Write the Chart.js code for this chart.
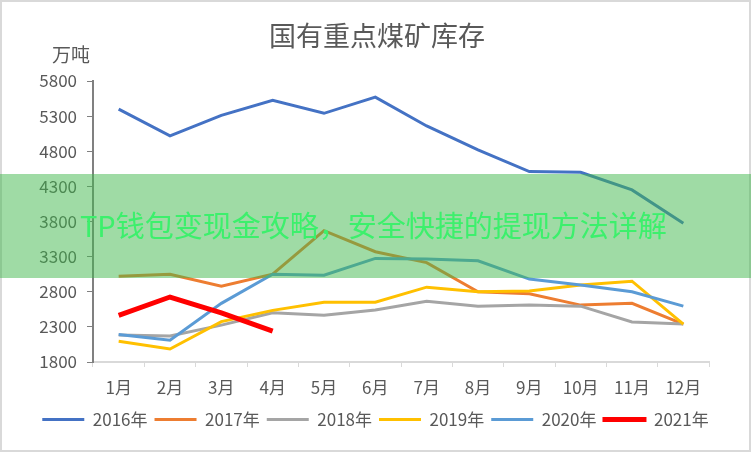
<!DOCTYPE html>
<html>
<head>
<meta charset="utf-8">
<script src="https://cdn.jsdelivr.net/npm/chart.js@4"></script>
<style>
  html, body { margin: 0; padding: 0; background: #fff; }
  #wrap { position: relative; width: 751px; height: 452px; overflow: hidden; }
  #frame { position: absolute; inset: 0; border: 2px solid #d9d9d9; pointer-events: none; }
  #band { position: absolute; left: 0; top: 174px; width: 751px; height: 104px; background: rgba(64, 184, 76, 0.5); }
  #band span { position: absolute; left: 80px; top: 36px; font: 29px/29px "Noto Sans CJK SC"; color: #3cf06c; white-space: nowrap; }
</style>
</head>
<body>
<div id="wrap">
  <canvas id="chart" width="751" height="452"></canvas>
  <div id="frame"></div>
  <div id="band"><span>TP钱包变现金攻略，安全快捷的提现方法详解</span></div>
</div>
<script>
const months = ["1月", "2月", "3月", "4月", "5月", "6月", "7月", "8月", "9月", "10月", "11月", "12月"];
const years = ["2016年", "2017年", "2018年", "2019年", "2020年", "2021年"];
const s2016 = [5400, 5020, 5310, 5525, 5340, 5570, 5160, 4820, 4510, 4500, 4250, 3775];
const s2017 = [3020, 3050, 2880, 3050, 3670, 3370, 3215, 2800, 2770, 2610, 2635, 2340];
const s2018 = [2185, 2170, 2325, 2500, 2465, 2540, 2665, 2595, 2610, 2595, 2370, 2340];
const s2019 = [2095, 1985, 2375, 2535, 2650, 2650, 2865, 2800, 2810, 2895, 2950, 2340];
const s2020 = [2190, 2110, 2635, 3050, 3035, 3275, 3265, 3240, 2980, 2895, 2800, 2595];
const s2021 = [2465, 2725, 2500, 2240];
const yTicks = [1800, 2300, 2800, 3300, 3800, 4300, 4800, 5300, 5800];

const colors = ["#4472c4", "#ed7d31", "#a5a5a5", "#ffc000", "#5b9bd5", "#ff0000"];
const series = [s2016, s2017, s2018, s2019, s2020, s2021];
const FONT = "'Noto Sans CJK SC', 'Noto Sans', sans-serif";
const TEXT = "#595959";

// title and unit label
const extraText = {
  id: "extraText",
  afterDraw(chart) {
    const ctx = chart.ctx;
    ctx.save();
    ctx.fillStyle = TEXT;
    ctx.textAlign = "center";
    ctx.textBaseline = "middle";
    ctx.font = "27px " + FONT;
    ctx.fillText("国有重点煤矿库存", 377, 36);
    ctx.font = "19px " + FONT;
    ctx.fillText("万吨", 71, 55);
    ctx.restore();
  }
};

new Chart(document.getElementById("chart"), {
  type: "line",
  data: {
    labels: months,
    datasets: series.map((data, i) => ({
      label: years[i],
      data: data,
      borderColor: colors[i],
      backgroundColor: colors[i],
      borderWidth: i === 5 ? 5 : 3,
      pointRadius: 0,
      tension: 0,
      order: 5 - i
    }))
  },
  options: {
    responsive: false,
    animation: false,
    layout: { padding: { left: 0, right: 0, top: 81, bottom: 14 } },
    plugins: {
      legend: {
        position: "bottom",
        labels: {
          boxWidth: 42,
          boxHeight: 3,
          padding: 7,
          color: TEXT,
          font: { family: FONT, size: 17 },
          generateLabels: (chart) => chart.data.datasets.map((ds, i) => ({
            text: ds.label,
            fillStyle: ds.borderColor,
            strokeStyle: ds.borderColor,
            lineWidth: i === 5 ? 2 : 0,
            datasetIndex: i,
            fontColor: TEXT
          }))
        }
      },
      tooltip: { enabled: false }
    },
    scales: {
      x: {
        offset: true,
        grid: { offset: true, drawOnChartArea: false, drawTicks: true, tickLength: 5, color: "#d9d9d9" },
        border: { color: "#d9d9d9", width: 2 },
        ticks: { color: TEXT, font: { family: FONT, size: 17 }, padding: 10, maxRotation: 0, autoSkip: false },
        afterFit: (scale) => { scale.height = 42; }
      },
      y: {
        min: 1800,
        max: 5800,
        afterBuildTicks: (scale) => { scale.ticks = yTicks.map(v => ({ value: v })); },
        grid: { drawOnChartArea: false, drawTicks: true, tickLength: 6, color: "#808080" },
        border: { color: "#808080", width: 2 },
        ticks: { color: TEXT, font: { family: FONT, size: 17 }, padding: 10, callback: (v) => String(v) },
        afterFit: (scale) => { scale.width = 93; }
      },
      yR: {
        position: "right",
        display: true,
        grid: { display: false },
        border: { display: false },
        ticks: { display: false },
        afterFit: (scale) => { scale.width = 42; }
      }
    }
  },
  plugins: [extraText]
});
</script>
</body>
</html>
